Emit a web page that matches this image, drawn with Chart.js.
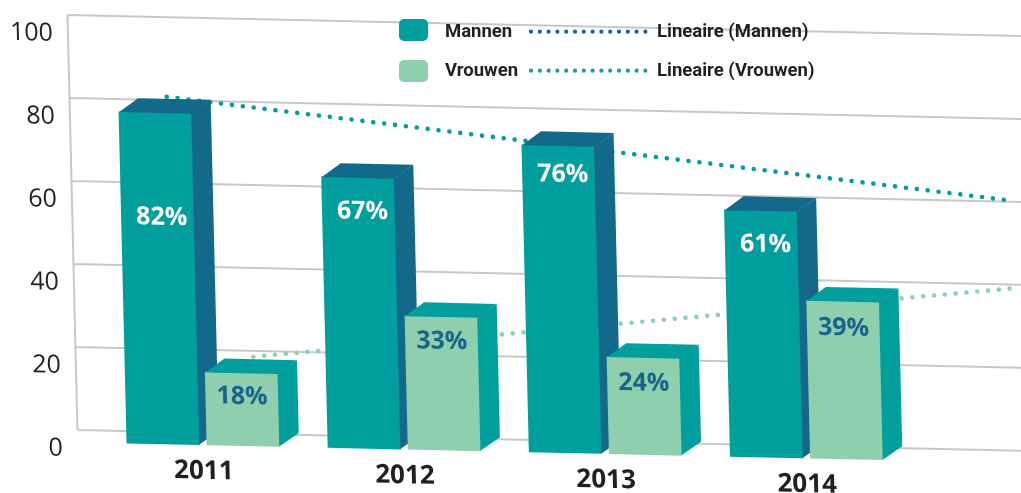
<!DOCTYPE html>
<html><head><meta charset="utf-8">
<script src="https://cdn.jsdelivr.net/npm/chart.js@4/dist/chart.umd.min.js"></script>
<style>html,body{margin:0;padding:0;background:#fff;}canvas{display:block;}</style>
</head><body>
<canvas id="c" width="1021" height="493"></canvas>
<script>
// ---- data ----
const categories = ['2011', '2012', '2013', '2014'];
const mannen = [82, 67, 76, 61];
const vrouwen = [18, 33, 24, 39];
const yTicks = [0, 20, 40, 60, 80, 100];
// linear trend lines (category index, value)
const trendMannenX = [-0.14, 4.06];
const trendMannenY = [80.8, 60.2];
const trendVrouwenX = [0.26, 4.08];
const trendVrouwenY = [18.6, 39.3];
const seriesNames = ['Mannen', 'Vrouwen', 'Lineaire (Mannen)', 'Lineaire (Vrouwen)'];

// ---- styles ----
const C = {teal:'#009E9C', blue:'#12698A', green:'#90CFAD', text:'#231F20', grid:'#C8C8C8', labelBlue:'#17658A', trendGreen:'#8FD1AE'};
const SHEAR = {kx:0.024, ky:0.022, x0:67, y0:15};
const DEPTH = {dx:19.5, dy:-14};
const WALL = {dy:-19, left:67.5};
const BAR_SHIFT = 40.05;
const mannenLabelDy = [103, 32, 27, 32];
const vrouwenLabelDy = [22, 23, 24, 25];
const FONT = '"Open Sans", "Liberation Sans", sans-serif';
const LEGEND_FONT = 'bold 18.5px Roboto, "Open Sans", sans-serif';

function drawLegend(chart){
  const ctx = chart.ctx, ds = chart.data.datasets;
  ctx.save();
  ctx.font = LEGEND_FONT;
  ctx.textAlign = 'left'; ctx.textBaseline = 'alphabetic';
  const rows = [[ds[0], ds[2], 19, 37], [ds[1], ds[3], 60, 76]];
  rows.forEach(([bar, trend, sqTop, base]) => {
    ctx.fillStyle = bar.backgroundColor;
    ctx.beginPath(); ctx.roundRect(399, sqTop, 29, 22, 5); ctx.fill();
    ctx.fillStyle = C.text;
    ctx.fillText(bar.label, 445, base);
    ctx.save();
    ctx.strokeStyle = trend.legendColor; ctx.lineWidth = 4.2; ctx.lineCap = 'round';
    ctx.setLineDash([0, 8.8]);
    ctx.beginPath(); ctx.moveTo(531, base - 5.3); ctx.lineTo(648, base - 5.3); ctx.stroke();
    ctx.restore();
    ctx.fillText(trend.label, 657, base);
  });
  ctx.restore();
}

const threeD = {
  id: 'threeD',
  beforeDraw(chart){
    const ctx = chart.ctx, s = SHEAR;
    ctx.save();
    ctx.transform(1, s.ky, s.kx, 1, -s.kx * s.y0, -s.ky * s.x0);
  },
  beforeDatasetsDraw(chart){
    const ctx = chart.ctx, yl = chart.scales.yl;
    ctx.save();
    ctx.strokeStyle = C.grid; ctx.lineWidth = 2;
    ctx.beginPath();
    yTicks.forEach(v => {
      const y = yl.getPixelForValue(v) + WALL.dy;
      ctx.moveTo(WALL.left, y); ctx.lineTo(chart.width + 60, y);
    });
    ctx.moveTo(WALL.left, yl.getPixelForValue(100) + WALL.dy);
    ctx.lineTo(WALL.left, yl.getPixelForValue(0) + WALL.dy);
    ctx.stroke();
    ctx.restore();
  },
  beforeDatasetDraw(chart, args){
    if (args.meta.type === 'bar') return false; // bars are drawn later, in dataset order
    chart.ctx.save();
    chart.ctx.translate(0, WALL.dy);
  },
  afterDatasetDraw(chart, args){
    if (args.meta.type !== 'bar') chart.ctx.restore();
  },
  afterDatasetsDraw(chart){
    const ctx = chart.ctx;
    chart.data.datasets.forEach((ds, di) => {
      if (ds.type !== 'bar') return;
      const meta = chart.getDatasetMeta(di);
      ctx.save();
      ctx.translate(ds.shiftX, 0);
      meta.controller.draw();
      ctx.fillStyle = ds.faceColor;
      meta.data.forEach(bar => {
        const p = bar.getProps(['x', 'y', 'base', 'width'], true);
        const l = p.x - p.width / 2, r = p.x + p.width / 2, t = p.y, b = p.base;
        const dx = DEPTH.dx, dy = DEPTH.dy;
        ctx.beginPath();
        ctx.moveTo(l + 0.3, t + 0.3); ctx.lineTo(l + dx, t + dy); ctx.lineTo(r + dx, t + dy); ctx.lineTo(r, t + 0.3);
        ctx.closePath(); ctx.fill();
        ctx.beginPath();
        ctx.moveTo(r - 0.3, t); ctx.lineTo(r + dx, t + dy); ctx.lineTo(r + dx, b + dy); ctx.lineTo(r - 0.3, b);
        ctx.closePath(); ctx.fill();
      });
      ctx.font = 'bold 25px ' + FONT;
      ctx.textAlign = 'center'; ctx.textBaseline = 'alphabetic';
      ctx.fillStyle = ds.labelColor;
      meta.data.forEach((bar, i) => {
        ctx.fillText(ds.data[i] + '%', bar.x + ds.labelDx, bar.y + ds.labelDy[i] + 9);
      });
      ctx.restore();
    });
  },
  afterDraw(chart){
    chart.ctx.restore();
    drawLegend(chart);
  }
};

new Chart(document.getElementById('c'), {
  type: 'bar',
  data: {
    labels: categories,
    datasets: [
      {type:'bar', label:seriesNames[0], data:mannen, backgroundColor:C.teal, faceColor:C.blue,
       labelColor:'#FFFFFF', labelDy:mannenLabelDy, labelDx:4, shiftX:-BAR_SHIFT,
       xAxisID:'x', yAxisID:'y', grouped:false, barThickness:72.6},
      {type:'bar', label:seriesNames[1], data:vrouwen, backgroundColor:C.green, faceColor:C.teal,
       labelColor:C.labelBlue, labelDy:vrouwenLabelDy, labelDx:0, shiftX:BAR_SHIFT,
       xAxisID:'x', yAxisID:'y', grouped:false, barThickness:72.6},
      {type:'line', label:seriesNames[2], data:trendMannenX.map((x, i) => ({x, y:trendMannenY[i]})),
       xAxisID:'xt', yAxisID:'yl', borderColor:C.teal, legendColor:'#17688A', borderWidth:4.6,
       borderDash:[0, 10.9], borderCapStyle:'round', pointRadius:0, fill:false, clip:false, tension:0},
      {type:'line', label:seriesNames[3], data:trendVrouwenX.map((x, i) => ({x, y:trendVrouwenY[i]})),
       xAxisID:'xt', yAxisID:'yl', borderColor:C.trendGreen, legendColor:'#12A09B', borderWidth:4.6,
       borderDash:[0, 10.9], borderCapStyle:'round', pointRadius:0, fill:false, clip:false, tension:0}
    ]
  },
  options: {
    responsive: false,
    animation: false,
    devicePixelRatio: 1,
    events: [],
    layout: {padding: {top: 34, right: 124, left: 0, bottom: 0}},
    plugins: {legend: {display: false}, tooltip: {enabled: false}},
    scales: {
      x: {type:'category', position:'bottom', offset:true,
          grid:{display:false, drawTicks:false}, border:{display:false},
          ticks:{padding:4, color:C.text, font:{family:FONT, size:26, weight:'bold'}},
          afterFit(s){ s.height = 44; }},
      xt: {type:'linear', display:false, offset:false, min:-0.5, max:3.5},
      y: {type:'linear', display:false, min:-1.733, max:100.98},
      yl: {type:'linear', position:'left', min:0, max:100,
           ticks:{stepSize:20, padding:0, color:C.text, font:{family:FONT, size:25}},
           grid:{display:false, drawTicks:true, tickLength:40}, border:{display:false},
           afterFit(s){ s.width = 92.4; }}
    }
  },
  plugins: [threeD]
});
</script>
</body></html>
